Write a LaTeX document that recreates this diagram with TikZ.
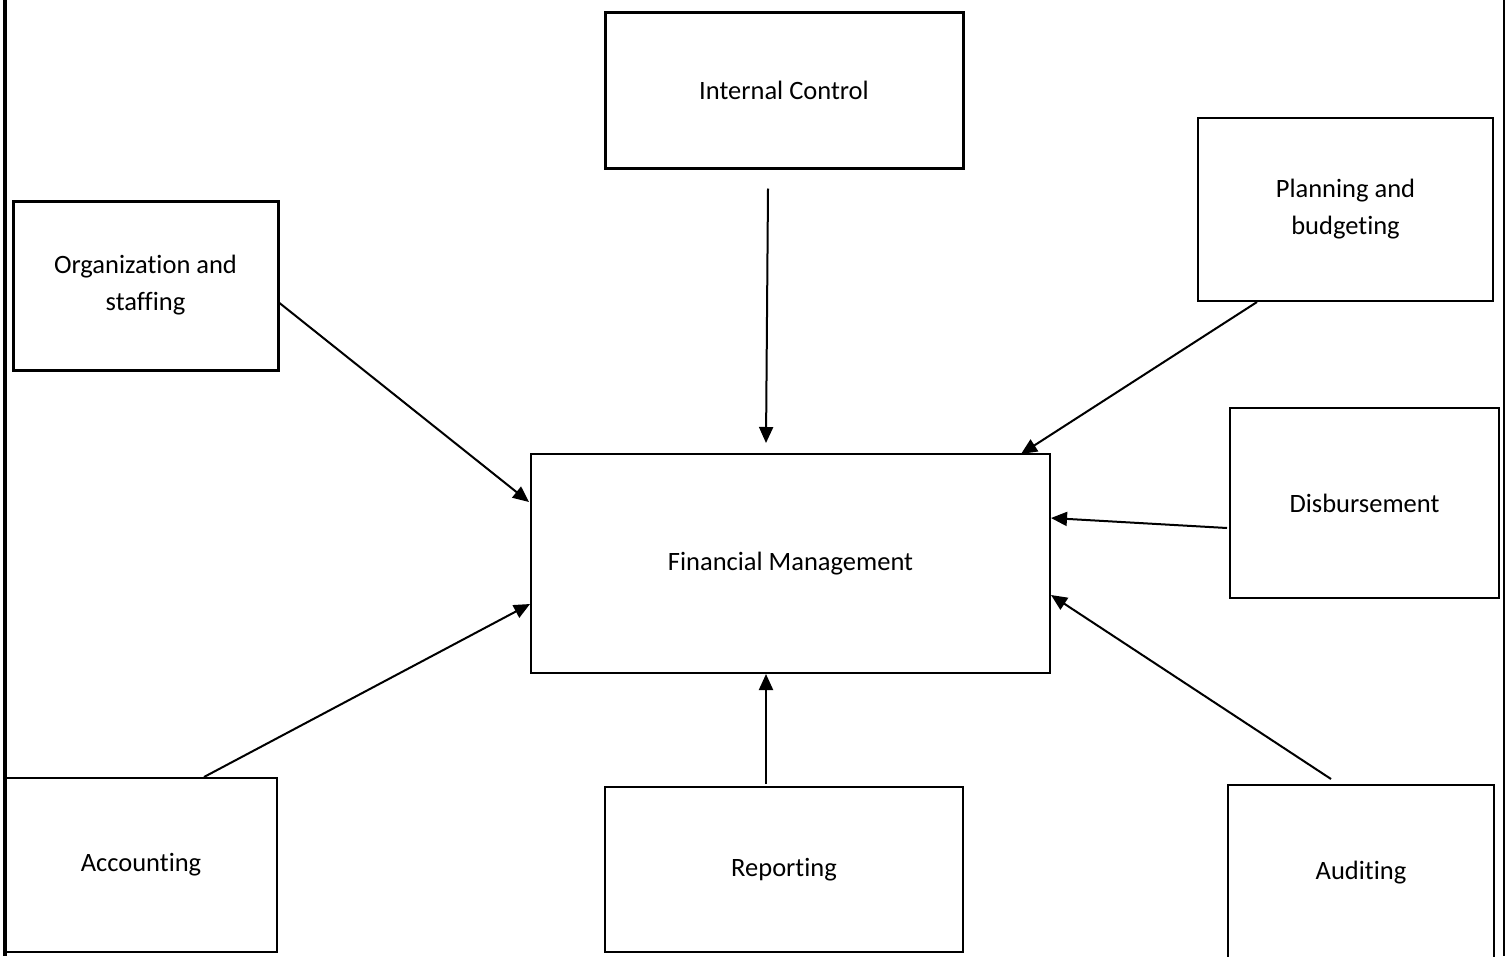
\documentclass[tikz,border=0pt]{standalone}
\usepackage{fontspec}
\setmainfont[Ligatures=NoCommon]{Carlito}
\usetikzlibrary{arrows.meta,calc}
\tikzset{
  box/.style={draw=black, rectangle, inner sep=0pt, align=center, font=\fontsize{26.5}{37}\selectfont},
  arr/.style={line width=2pt, -{Triangle[length=16pt,width=14pt]}},
}
\begin{document}
\begin{tikzpicture}[x=1pt,y=-1pt]
\useasboundingbox (0,0) rectangle (1506,956);
\fill[white] (0,0) rectangle (1506,956);
\clip (0,0) rectangle (1506,956);
% frame lines
\coordinate (lt) at (5,0);
\coordinate (lb) at (5,956);
\coordinate (rt) at (1504,0);
\coordinate (rb) at (1504,956);
\draw[line width=4pt] (lt) -- (lb);
\draw[line width=2.5pt] (rt) -- (rb);
% boxes
\node[box, line width=3pt, minimum width=358pt, minimum height=156pt] (ic) at (784,90) {Internal Control};
\node[box, line width=3pt, minimum width=265pt, minimum height=169pt] (org) at (145.5,285.5) {Organization and\\staffing};
\node[box, line width=2pt, minimum width=295pt, minimum height=183pt] (plan) at (1345.5,209.5) {Planning and\\budgeting};
\node[box, line width=2pt, minimum width=269pt, minimum height=190pt] (disb) at (1364.5,503) {Disbursement};
\node[box, line width=2pt, minimum width=519pt, minimum height=219pt] (fm) at (790.5,563.5) {Financial Management};
\node[box, line width=2pt, minimum width=272pt, minimum height=174pt] (acc) at (141,865) {Accounting};
\node[box, line width=2pt, minimum width=358pt, minimum height=165pt] (rep) at (784,869.5) {Reporting};
\node[box, line width=2pt, minimum width=266pt, minimum height=176pt] (aud) at (1361,873) {Auditing};
% connectors
\draw[arr] ($(ic.south)+(-16,19)$) -- ($(fm.north)+(-24.5,-10)$);
\draw[arr] ($(org.east)+(0,17.5)$) -- ($(fm.north west)+(-1,49)$);
\draw[arr] ($(plan.south west)+(60,0)$) -- ($(fm.north east)+(-30,1)$);
\draw[arr] ($(disb.west)+(-2,25)$) -- ($(fm.north east)+(0,65)$);
\draw[arr] ($(acc.north)+(63,0)$) -- ($(fm.north west)+(0,151)$);
\draw[arr] ($(rep.north)+(-18,-2)$) -- ($(fm.south)+(-24.5,0)$);
\draw[arr] ($(aud.north)+(-30,-5)$) -- ($(fm.north east)+(0,142)$);
\end{tikzpicture}
\end{document}
